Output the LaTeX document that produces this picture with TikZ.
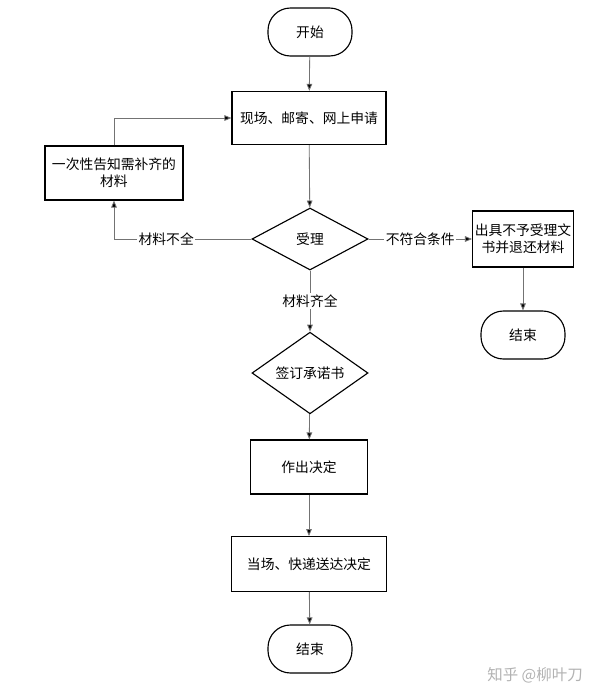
\documentclass[tikz,border=0pt]{standalone}
\usepackage{fontspec}
\setmainfont{Noto Sans CJK SC}
\usetikzlibrary{shapes.geometric,arrows.meta}
\tikzset{
  procbox/.style={draw=black, line width=0.8pt, rectangle, minimum width=#1, minimum height=1.33cm, align=center, inner sep=1pt},
  termbox/.style={draw=black, line width=0.8pt, rectangle, rounded corners=16pt, minimum width=2.1cm, minimum height=1.2cm},
  decbox/.style={draw=black, line width=0.8pt, diamond, minimum width=2.9cm, minimum height=1.55cm, inner sep=0pt},
  conn/.style={draw=black!55, line width=0.6pt, -{Triangle[length=5pt,width=4pt,fill=black]}},
  connlabel/.style={fill=white, inner sep=1pt}
}
\begin{document}
\begin{tikzpicture}[x=0.025cm, y=-0.025cm, font=\fontsize{9.8}{12}\selectfont]
        \useasboundingbox (0,0) rectangle (607,699);

        \node[termbox] (start)  at (310,32) {开始};
        \node[procbox=3.85cm] (apply)  at (309,118) {现场、邮寄、网上申请};
        \node[procbox=3.45cm, minimum height=1.35cm, text width=3.3cm] (notice)  at (114,173) {一次性告知需补齐的\\材料};
        \node[decbox] (accept)  at (310,239) {受理};
        \node[procbox=2.5cm, minimum height=1.4cm, text width=2.45cm] (reject)  at (523,239) {出具不予受理文\\书并退还材料};
        \node[termbox] (endR)  at (523,335) {结束};
        \node[decbox] (sign)  at (310,373) {签订承诺书};
        \node[procbox=2.92cm, minimum height=1.35cm] (decide)  at (309,467) {作出决定};
        \node[procbox=3.87cm, minimum height=1.37cm] (deliver)  at (309,564) {当场、快递送达决定};
        \node[termbox] (endB)  at (310,649) {结束};

        \path [conn] (start) -- (apply);
        \path [conn] (apply) -- (accept);
        \path [conn] (accept.west) -| node[connlabel, pos=0.31] {材料不全} (notice.south);
        \path [conn] (notice.north) |- (apply.west);
        \path [conn] (accept.east) -- node[connlabel] {不符合条件} (reject.west);
        \path [conn] (reject) -- (endR);
        \path [conn] (accept.south) -- node[connlabel] {材料齐全} (sign.north);
        \path [conn] (sign) -- (decide);
        \path [conn] (decide) -- (deliver);
        \path [conn] (deliver) -- (endB);

        \node[text=black!30, font=\fontsize{11}{13}\selectfont] (mark) at (535,675) {知乎 @柳叶刀};
    \end{tikzpicture}
\end{document}
